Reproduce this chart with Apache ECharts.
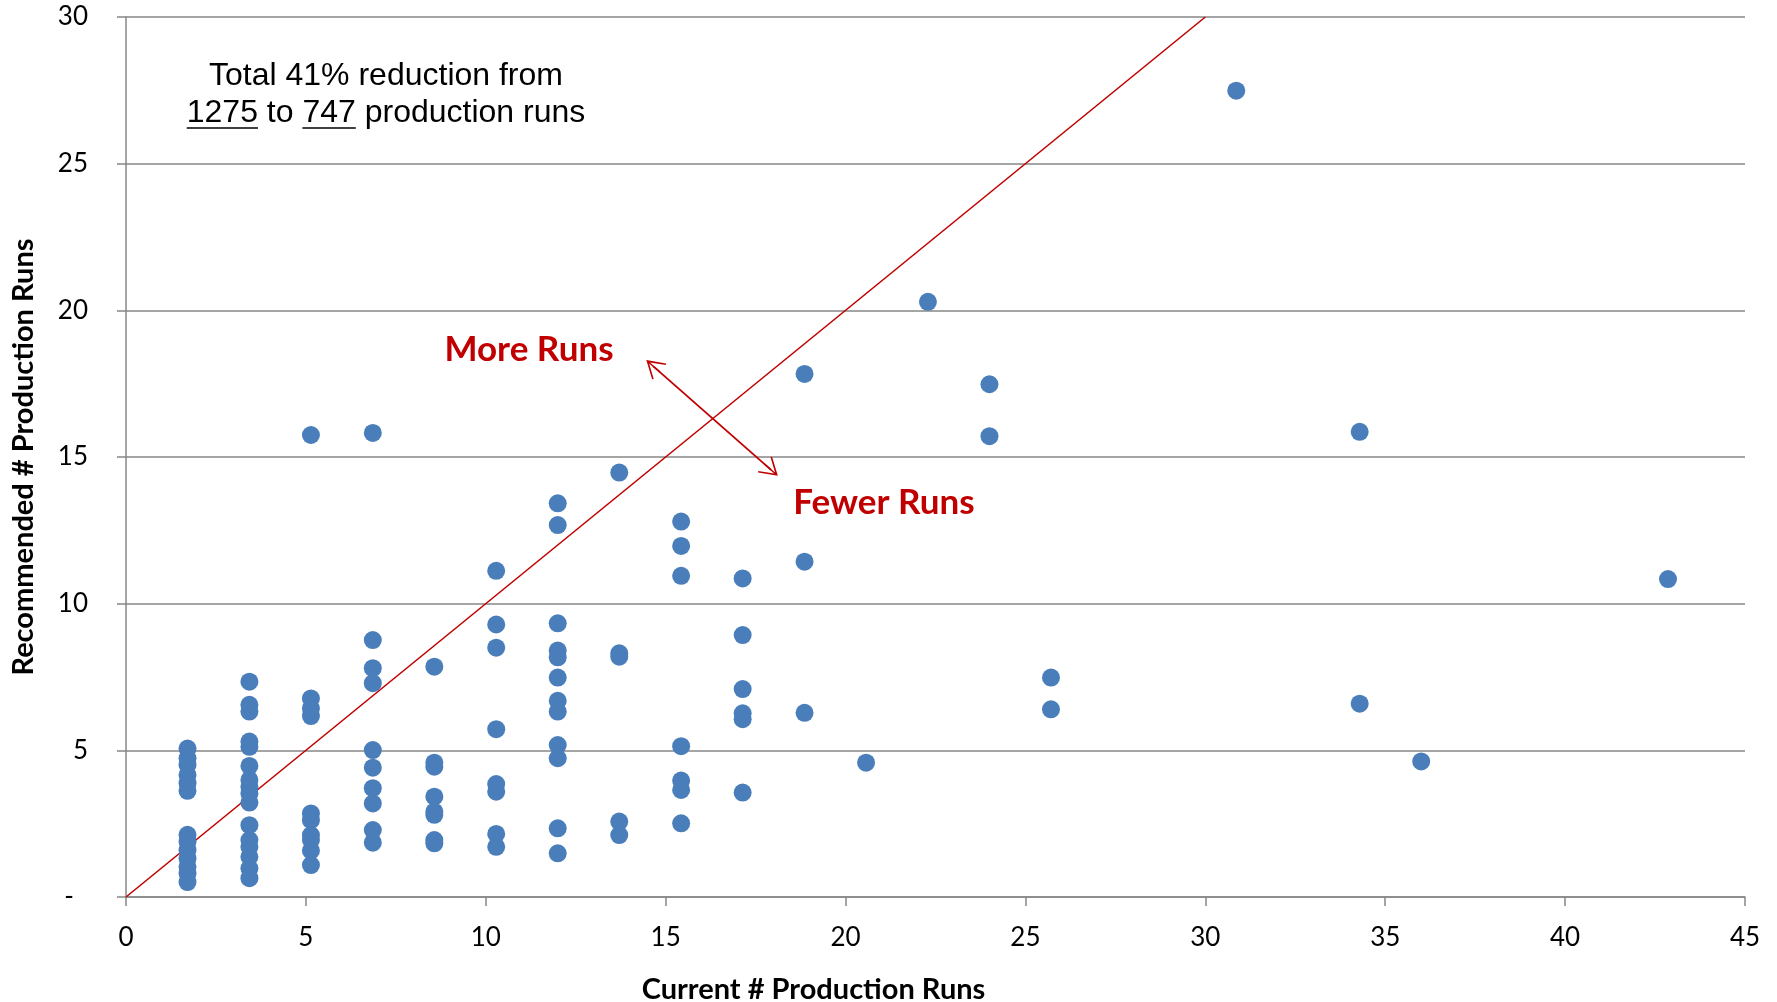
<!DOCTYPE html>
<html>
<head>
<meta charset="utf-8">
<title>Current vs recommended production runs</title>
<script src="https://cdn.jsdelivr.net/npm/echarts@6/dist/echarts.min.js"></script>
<style>
  html, body { margin: 0; padding: 0; background: #ffffff; }
  #main { width: 1777px; height: 1002px; }
</style>
</head>
<body>
<div id="main"></div>
<script>
// x positions of the point columns (current # of runs)
const currentRuns = [1.71, 3.43, 5.14, 6.86, 8.57, 10.29, 12, 13.71, 15.43, 17.14,
  18.86, 20.57, 22.29, 24, 25.71, 30.86, 34.29, 36, 42.86];

// recommended # of runs, one list per column above
const recommendedRuns = [
  [5.06, 4.73, 4.50, 4.16, 3.88, 3.62, 2.12, 1.89, 1.60, 1.32, 1.03, 0.81, 0.51],
  [7.34, 6.55, 6.32, 5.30, 5.12, 4.47, 3.99, 3.76, 3.53, 3.22, 2.45, 1.94, 1.71, 1.37, 0.98, 0.64],
  [15.75, 6.77, 6.43, 6.17, 2.85, 2.62, 2.11, 1.94, 1.58, 1.09],
  [15.82, 8.76, 7.80, 7.29, 5.01, 4.41, 3.71, 3.19, 2.28, 1.85],
  [7.85, 4.58, 4.44, 3.42, 2.91, 2.80, 1.94, 1.83],
  [11.12, 9.29, 8.50, 5.72, 3.85, 3.59, 2.15, 1.71],
  [13.42, 12.68, 9.33, 8.40, 8.17, 7.48, 6.69, 6.32, 5.18, 4.73, 2.34, 1.49],
  [14.47, 8.31, 8.19, 2.57, 2.11],
  [12.80, 11.97, 10.95, 5.14, 3.97, 3.65, 2.51],
  [10.86, 8.93, 7.09, 6.26, 6.06, 3.56],
  [17.83, 11.43, 6.28],
  [4.58],
  [20.29],
  [17.48, 15.71],
  [7.48, 6.40],
  [27.49],
  [15.86, 6.59],
  [4.62],
  [10.84]
];

const xRange = [0, 45];
const yRange = [0, 30];
const tickStep = 5;

// y = x reference line and the "more / fewer" arrow, in data units
const parityLine = [[0, 0], [30, 30]];
const arrowEnds = [[14.65, 18.10], [17.93, 14.56]];

const noteLine1 = 'Total 41% reduction from';
const noteBefore = '1275';
const noteMid = ' to ';
const noteAfter = '747';
const noteRest = ' production runs';

const points = [];
currentRuns.forEach((x, i) => {
  recommendedRuns[i].forEach((y) => points.push([x, y]));
});

const RED = '#C00000';
const GRID = '#878787';
const TICK_FONT = 'Lato, "Open Sans", sans-serif';

// open arrow head with a short stem so the shaft reaches the tip
const arrowHead = 'path://M10,0 L20,16.5 L18.8,17.5 L10.7,4.2 L10.7,17.5 L9.3,17.5 L9.3,4.2 L1.2,17.5 L0,16.5 Z';

function textWidth(str, font) {
  const ctx = document.createElement('canvas').getContext('2d');
  ctx.font = font;
  return ctx.measureText(str).width;
}

const noteSize = 32;
const noteCss = `${noteSize}px "Liberation Sans", Arial, sans-serif`;
const noteCx = 386;
const line2 = noteBefore + noteMid + noteAfter + noteRest;
const line2W = textWidth(line2, noteCss);
const line2Left = noteCx - line2W / 2;
const wBefore = textWidth(noteBefore, noteCss);
const wMid = textWidth(noteBefore + noteMid, noteCss);
const wAfter = textWidth(noteAfter, noteCss);
const underlineY = 128;

const chart = echarts.init(document.getElementById('main'), null, { renderer: 'canvas' });

chart.setOption({
  animation: false,
  backgroundColor: '#ffffff',
  grid: { left: 126, right: 32, top: 17, bottom: 105, outerBoundsMode: 'none', containLabel: false },
  xAxis: {
    type: 'value',
    min: xRange[0],
    max: xRange[1],
    interval: tickStep,
    name: 'Current # Production Runs',
    nameLocation: 'middle',
    nameGap: 78,
    nameTextStyle: {
      fontFamily: TICK_FONT,
      fontWeight: 'bold',
      fontSize: 29,
      color: '#000',
      padding: [0, 244, 0, 0]
    },
    axisLine: { show: true, onZero: false, lineStyle: { color: GRID, width: 1.5 } },
    axisTick: { show: true, length: 9, lineStyle: { color: GRID, width: 1.5 } },
    axisLabel: { color: '#000', fontFamily: TICK_FONT, fontSize: 26, margin: 28 },
    splitLine: { show: false }
  },
  yAxis: {
    type: 'value',
    min: yRange[0],
    max: yRange[1],
    interval: tickStep,
    name: 'Recommended # Production Runs',
    nameLocation: 'middle',
    nameRotate: 90,
    nameGap: 88,
    nameTextStyle: {
      fontFamily: TICK_FONT,
      fontWeight: 'bold',
      fontSize: 29,
      color: '#000'
    },
    axisLine: { show: true, onZero: false, lineStyle: { color: GRID, width: 1.5 } },
    axisTick: { show: true, length: 9, lineStyle: { color: GRID, width: 1.5 } },
    axisLabel: {
      color: '#000',
      fontFamily: TICK_FONT,
      fontSize: 26,
      margin: 38,
      formatter: (v) => (v === 0 ? '{dash|-}' : String(v)),
      rich: {
        dash: { fontFamily: TICK_FONT, fontSize: 26, color: '#000', padding: [0, 14, 0, 0] }
      }
    },
    splitLine: { show: true, lineStyle: { color: GRID, width: 1.5 } }
  },
  series: [
    {
      name: 'parity',
      type: 'line',
      data: parityLine,
      symbol: 'none',
      silent: true,
      z: 1,
      lineStyle: { color: RED, width: 1.6 },
      markLine: {
        silent: true,
        symbol: [arrowHead, arrowHead],
        symbolSize: [21, 18],
        label: { show: false },
        lineStyle: { color: RED, width: 1.8, type: 'solid' },
        data: [[{ coord: arrowEnds[0] }, { coord: arrowEnds[1] }]]
      }
    },
    {
      name: 'runs',
      type: 'scatter',
      data: points,
      symbolSize: 18,
      z: 3,
      itemStyle: { color: '#4A7EBB', opacity: 1 }
    }
  ],
  graphic: [
    {
      type: 'text',
      x: noteCx,
      y: 76.5,
      style: {
        text: noteLine1,
        font: noteCss,
        fill: '#000',
        align: 'center',
        verticalAlign: 'middle'
      }
    },
    {
      type: 'text',
      x: noteCx,
      y: 113.5,
      style: {
        text: line2,
        font: noteCss,
        fill: '#000',
        align: 'center',
        verticalAlign: 'middle'
      }
    },
    {
      type: 'line',
      shape: { x1: line2Left, y1: underlineY, x2: line2Left + wBefore, y2: underlineY },
      style: { stroke: '#000', lineWidth: 1.5 }
    },
    {
      type: 'line',
      shape: { x1: line2Left + wMid, y1: underlineY, x2: line2Left + wMid + wAfter, y2: underlineY },
      style: { stroke: '#000', lineWidth: 1.5 }
    },
    {
      type: 'text',
      x: 529,
      y: 350,
      style: {
        text: 'More Runs',
        font: `bold 35px ${TICK_FONT}`,
        fill: RED,
        align: 'center',
        verticalAlign: 'middle'
      }
    },
    {
      type: 'text',
      x: 884,
      y: 503,
      style: {
        text: 'Fewer Runs',
        font: `bold 35px ${TICK_FONT}`,
        fill: RED,
        align: 'center',
        verticalAlign: 'middle'
      }
    }
  ]
});
</script>
</body>
</html>
